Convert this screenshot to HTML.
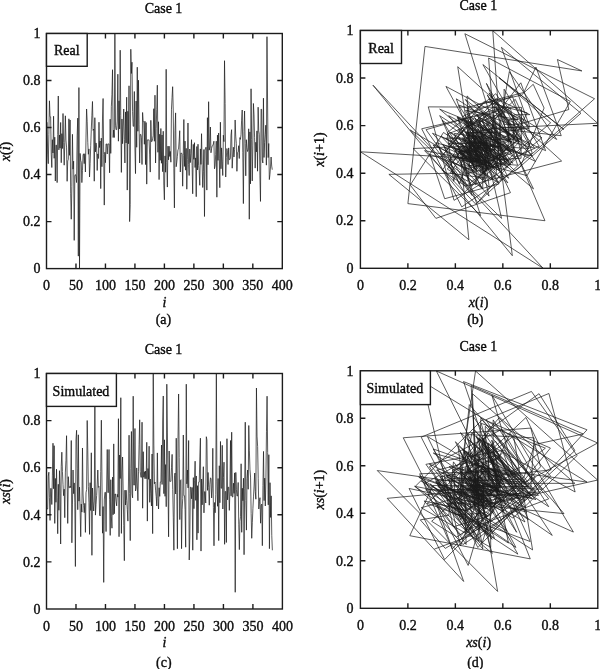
<!DOCTYPE html>
<html><head><meta charset="utf-8"><style>
html,body{margin:0;padding:0;background:#fff;}
svg{display:block;will-change:transform;}
text{stroke:#000;stroke-width:0.35px;}
</style></head><body>
<svg width="600" height="669" viewBox="0 0 600 669" font-family="'Liberation Serif', serif" font-size="14" fill="#111">
<path d="M46.50 122.30L47.09 122.30L47.68 154.08L48.27 163.70L48.86 134.36L49.45 100.81L50.04 116.68L50.63 116.82L51.22 154.11L51.81 167.51L52.39 139.69L52.98 153.00L53.57 116.21L54.16 158.31L54.75 137.18L55.34 181.00L55.93 145.15L56.52 145.15L57.11 182.60L57.70 134.55L58.29 95.99L58.88 149.90L59.47 134.97L60.06 148.18L60.65 122.46L61.24 162.71L61.83 133.65L62.42 148.53L63.01 113.50L63.60 142.16L64.19 165.20L64.77 142.77L65.36 115.81L65.95 140.05L66.54 147.12L67.13 181.31L67.72 160.97L68.31 159.44L68.90 118.79L69.49 155.33L70.08 119.99L70.67 193.84L71.26 219.23L71.85 186.32L72.44 134.31L73.03 169.11L73.62 161.16L74.21 240.39L74.80 175.74L75.39 174.56L75.97 176.21L76.56 182.55L77.15 135.91L77.74 118.14L78.33 256.14L78.92 87.57L79.51 268.60L80.10 153.40L80.69 160.34L81.28 162.19L81.87 182.60L82.46 170.52L83.05 154.95L83.64 153.75L84.23 163.65L84.82 153.75L85.41 172.00L86.00 137.06L86.59 108.99L87.18 121.22L87.77 142.26L88.35 154.27L88.94 148.91L89.53 177.01L90.12 163.60L90.71 145.78L91.30 129.26L91.89 115.27L92.48 101.49L93.07 130.36L93.66 129.04L94.25 181.19L94.84 117.69L95.43 151.92L96.02 142.94L96.61 146.98L97.20 170.49L97.79 153.87L98.38 158.50L98.97 122.20L99.56 147.55L100.14 141.01L100.73 188.60L101.32 138.12L101.91 166.71L102.50 118.04L103.09 98.51L103.68 154.39L104.27 205.10L104.86 152.25L105.45 162.69L106.04 143.93L106.63 143.93L107.22 153.97L107.81 143.93L108.40 143.93L108.99 143.93L109.58 172.80L110.17 119.17L110.76 153.38L111.34 106.78L111.93 94.77L112.52 69.71L113.11 137.51L113.70 130.03L114.29 137.51L114.88 33.71L115.47 125.19L116.06 129.77L116.65 129.54L117.24 121.10L117.83 74.20L118.42 141.20L119.01 100.83L119.60 128.95L120.19 50.19L120.78 115.31L121.37 172.40L121.96 119.03L122.55 143.69L123.14 126.06L123.72 108.99L124.31 139.44L124.90 162.99L125.49 111.93L126.08 142.94L126.67 97.19L127.26 190.10L127.85 111.27L128.44 143.81L129.03 85.81L129.62 221.58L130.21 204.65L130.80 49.25L131.39 73.47L131.98 62.21L132.57 111.62L133.16 126.29L133.75 126.29L134.34 91.50L134.93 147.90L135.51 173.60L136.10 101.07L136.69 147.29L137.28 67.19L137.87 131.28L138.46 80.19L139.05 124.77L139.64 162.99L140.23 134.40L140.82 134.40L141.41 137.32L142.00 164.50L142.59 112.49L143.18 121.59L143.77 121.59L144.36 144.26L144.95 121.19L145.54 164.59L146.13 122.56L146.72 184.11L147.30 139.88L147.89 139.88L148.48 139.88L149.07 139.88L149.66 154.91L150.25 172.09L150.84 120.30L151.43 141.53L152.02 141.53L152.61 138.80L153.20 135.74L153.79 108.71L154.38 141.25L154.97 95.19L155.56 162.99L156.15 128.53L156.74 109.74L157.33 85.20L157.92 152.30L158.50 121.76L159.09 179.59L159.68 134.22L160.27 160.34L160.86 128.50L161.45 163.25L162.04 134.99L162.63 171.69L163.22 131.23L163.81 185.12L164.40 199.81L164.99 155.89L165.58 172.21L166.17 69.31L166.76 162.55L167.35 187.09L167.94 146.18L168.53 159.84L169.12 146.18L169.71 156.46L170.30 151.43L170.88 162.19L171.47 109.20L172.06 97.45L172.65 86.70L173.24 110.14L173.83 168.19L174.42 207.90L175.01 130.67L175.60 112.89L176.19 166.71L176.78 162.17L177.37 156.32L177.96 149.80L178.55 149.08L179.14 141.15L179.73 130.69L180.32 172.00L180.91 153.07L181.50 153.07L182.09 154.25L182.67 186.20L183.26 155.56L183.85 119.50L184.44 166.45L185.03 141.11L185.62 170.16L186.21 148.37L186.80 189.21L187.39 159.33L187.98 123.00L188.57 164.62L189.16 175.50L189.75 149.05L190.34 162.59L190.93 153.54L191.52 139.69L192.11 165.63L192.70 193.79L193.29 144.37L193.88 159.33L194.46 142.70L195.05 167.51L195.64 157.89L196.23 196.71L196.82 146.54L197.41 170.02L198.00 144.21L198.59 165.37L199.18 170.61L199.77 185.30L200.36 148.91L200.95 164.43L201.54 133.70L202.13 164.36L202.72 187.49L203.31 171.64L203.90 149.50L204.49 216.50L205.08 150.18L205.66 147.45L206.25 147.45L206.84 190.10L207.43 117.69L208.02 164.78L208.61 101.70L209.20 150.18L209.79 146.96L210.38 127.00L210.97 152.79L211.56 148.68L212.15 145.90L212.74 145.55L213.33 144.00L213.92 141.20L214.51 168.80L215.10 166.12L215.69 154.58L216.28 141.20L216.87 197.20L217.46 135.11L218.04 160.38L218.63 132.99L219.22 158.36L219.81 187.70L220.40 122.20L220.99 168.75L221.58 147.90L222.17 161.91L222.76 175.50L223.35 135.20L223.94 141.65L224.53 60.70L225.12 103.56L225.71 177.01L226.30 157.47L226.89 148.53L227.48 152.13L228.07 164.50L228.66 147.92L229.25 159.63L229.83 159.63L230.42 157.96L231.01 135.11L231.60 129.70L232.19 168.19L232.78 156.25L233.37 147.19L233.96 157.00L234.55 149.47L235.14 119.99L235.73 136.14L236.32 143.50L236.91 171.29L237.50 152.51L238.09 151.92L238.68 145.69L239.27 158.50L239.86 137.60L240.45 139.37L241.03 134.76L241.62 120.16L242.21 110.00L242.80 152.30L243.39 203.59L243.98 131.56L244.57 110.99L245.16 143.53L245.75 175.81L246.34 139.69L246.93 147.69L247.52 151.50L248.11 149.59L248.70 128.81L249.29 219.21L249.88 131.91L250.47 183.89L251.06 88.80L251.65 139.53L252.24 180.91L252.82 145.92L253.41 103.49L254.00 114.89L254.59 137.72L255.18 168.12L255.77 142.26L256.36 151.92L256.95 130.88L257.54 171.20L258.13 107.20L258.72 130.88L259.31 134.22L259.90 175.88L260.49 201.41L261.08 108.99L261.67 109.51L262.26 159.84L262.85 162.99L263.44 98.20L264.03 157.47L264.62 142.52L265.20 134.85L265.79 125.19L266.38 165.16L266.97 36.70L267.56 100.97L268.15 157.59L268.74 143.50L269.33 179.59L269.92 174.65L270.51 166.92L271.10 157.00L271.69 166.03L272.28 169.69" stroke="#1a1a1a" stroke-width="0.72" fill="none" stroke-linejoin="miter" stroke-miterlimit="2"/>
<path d="M46.50 509.01L47.09 509.01L47.68 509.01L48.27 476.08L48.86 472.20L49.45 497.73L50.04 520.40L50.63 488.49L51.22 488.49L51.81 504.51L52.40 475.09L52.99 443.21L53.58 488.73L54.17 445.70L54.76 523.40L55.35 478.42L55.94 502.27L56.53 469.21L57.12 497.77L57.71 533.71L58.30 484.26L58.88 510.28L59.47 470.69L60.06 488.16L60.65 544.00L61.24 466.24L61.83 452.20L62.42 471.49L63.01 484.35L63.60 495.68L64.19 489.15L64.78 517.70L65.37 472.10L65.96 460.45L66.55 435.70L67.14 479.55L67.73 523.40L68.32 476.70L68.91 487.69L69.50 487.69L70.09 486.05L70.68 487.69L71.27 440.50L71.86 542.80L72.45 504.91L73.04 470.01L73.63 493.68L74.22 482.91L74.81 502.11L75.40 566.49L75.99 439.91L76.58 430.30L77.17 468.64L77.76 509.69L78.35 434.80L78.94 501.14L79.53 487.18L80.12 508.98L80.71 536.70L81.30 504.08L81.88 512.14L82.47 447.99L83.06 494.01L83.65 505.38L84.24 512.66L84.83 503.33L85.42 532.39L86.01 492.80L86.60 489.51L87.19 420.51L87.78 450.11L88.37 486.47L88.96 502.74L89.55 534.39L90.14 482.72L90.73 510.51L91.32 452.79L91.91 555.31L92.50 488.00L93.09 501.14L93.68 510.98L94.27 500.95L94.86 407.01L95.45 515.11L96.04 504.44L96.63 495.44L97.22 484.04L97.81 470.01L98.40 487.34L98.99 486.42L99.58 514.99L100.17 516.00L100.76 471.40L101.35 420.20L101.94 478.01L102.53 533.19L103.12 506.56L103.71 582.39L104.30 499.96L104.89 492.33L105.47 492.33L106.06 531.59L106.65 485.01L107.24 449.50L107.83 492.59L108.42 492.59L109.01 449.50L109.60 499.80L110.19 535.41L110.78 479.71L111.37 516.87L111.96 528.20L112.55 477.10L113.14 514.78L113.73 443.89L114.32 513.74L114.91 494.01L115.50 494.01L116.09 501.16L116.68 505.85L117.27 494.31L117.86 497.09L118.45 418.69L119.04 536.70L119.63 455.03L120.22 478.53L120.81 397.71L121.40 533.40L121.99 472.13L122.58 457.01L123.17 490.85L123.76 525.47L124.35 560.70L124.94 490.19L125.53 504.98L126.12 490.19L126.71 500.55L127.30 509.62L127.89 521.11L128.48 481.97L129.06 435.20L129.65 493.35L130.24 540.61L130.83 468.62L131.42 431.50L132.01 493.72L132.60 497.84L133.19 396.20L133.78 485.10L134.37 485.10L134.96 428.49L135.55 490.99L136.14 488.45L136.73 467.91L137.32 486.02L137.91 500.69L138.50 471.26L139.09 444.76L139.68 419.80L140.27 471.73L140.86 477.28L141.45 477.28L142.04 422.20L142.63 508.21L143.22 451.71L143.81 477.24L144.40 471.70L144.99 478.72L145.58 471.02L146.17 478.72L146.76 442.29L147.35 521.11L147.94 468.52L148.53 479.29L149.12 446.20L149.71 502.32L150.30 479.00L150.89 493.75L151.48 505.99L152.07 453.99L152.65 533.64L153.24 373.69L153.83 445.09L154.42 483.76L155.01 481.99L155.60 490.17L156.19 496.57L156.78 505.99L157.37 452.91L157.96 498.64L158.55 509.01L159.14 487.76L159.73 496.38L160.32 481.99L160.91 481.99L161.50 445.00L162.09 484.49L162.68 422.01L163.27 395.99L163.86 493.65L164.45 439.82L165.04 496.31L165.63 464.59L166.22 506.70L166.81 384.19L167.40 432.02L167.99 483.97L168.58 536.80L169.17 451.00L169.76 481.36L170.35 481.36L170.94 481.36L171.53 467.35L172.12 454.39L172.71 489.44L173.30 517.84L173.89 550.20L174.48 475.64L175.07 473.00L175.66 494.01L176.24 438.19L176.83 492.47L177.42 548.69L178.01 439.32L178.60 393.99L179.19 457.55L179.78 519.60L180.37 480.39L180.96 479.71L181.55 548.69L182.14 509.27L182.73 498.43L183.32 434.99L183.91 495.75L184.50 495.75L185.09 509.64L185.68 547.20L186.27 384.19L186.86 483.86L187.45 470.01L188.04 487.91L188.63 440.50L189.22 559.99L189.81 537.01L190.40 487.20L190.99 487.20L191.58 498.79L192.17 487.48L192.76 550.20L193.35 477.61L193.94 508.68L194.53 480.23L195.12 461.20L195.71 500.36L196.30 475.97L196.89 539.81L197.48 485.69L198.07 533.10L198.66 482.09L199.25 482.09L199.83 456.98L200.42 438.19L201.01 551.09L201.60 479.00L202.19 504.84L202.78 484.02L203.37 466.71L203.96 512.87L204.55 491.70L205.14 491.70L205.73 503.00L206.32 436.71L206.91 440.01L207.50 490.36L208.09 472.48L208.68 487.27L209.27 505.19L209.86 484.30L210.45 477.80L211.04 478.91L211.63 497.96L212.22 488.16L212.81 448.29L213.40 507.31L213.99 545.79L214.58 502.53L215.17 512.75L215.76 494.78L216.35 373.69L216.94 481.83L217.53 506.27L218.12 478.51L218.71 540.61L219.30 465.75L219.89 502.77L220.48 441.49L221.07 488.24L221.66 488.24L222.25 445.30L222.84 509.01L223.43 477.36L224.01 462.19L224.60 544.31L225.19 491.44L225.78 491.44L226.37 542.49L226.96 438.71L227.55 499.87L228.14 487.20L228.73 487.20L229.32 510.37L229.91 491.18L230.50 440.50L231.09 495.91L231.68 432.21L232.27 497.00L232.86 497.00L233.45 483.17L234.04 493.39L234.63 472.88L235.22 592.28L235.81 472.41L236.40 489.67L236.99 496.01L237.58 496.01L238.17 482.47L238.76 524.81L239.35 549.61L239.94 521.28L240.53 516.68L241.12 463.79L241.71 532.30L242.30 488.19L242.89 500.72L243.48 478.20L244.07 554.69L244.66 488.24L245.25 422.20L245.84 500.48L246.43 530.11L247.01 478.58L247.60 470.01L248.19 489.25L248.78 425.50L249.37 450.20L249.96 469.16L250.55 477.05L251.14 513.36L251.73 538.30L252.32 522.71L252.91 508.56L253.50 496.90L254.09 486.02L254.68 473.00L255.27 491.60L255.86 499.21L256.45 388.01L257.04 436.14L257.63 446.58L258.22 478.70L258.81 509.01L259.40 501.21L259.99 497.70L260.58 523.21L261.17 505.05L261.76 504.13L262.35 545.70L262.94 485.60L263.53 451.40L264.12 500.62L264.71 478.13L265.30 505.99L265.89 481.08L266.48 431.79L267.07 396.20L267.66 452.63L268.25 504.86L268.84 454.70L269.43 548.69L270.02 482.70L270.60 517.44L271.19 495.87L271.78 535.64L272.37 550.29" stroke="#1a1a1a" stroke-width="0.72" fill="none" stroke-linejoin="miter" stroke-miterlimit="2"/>
<path d="M508.13 120.32L508.13 152.47L476.04 162.19L466.33 132.52L495.96 98.58L529.83 114.63L513.81 114.78L513.67 152.49L476.01 166.05L462.48 137.91L490.57 151.37L477.13 114.16L514.28 156.75L471.76 135.37L493.11 179.70L448.86 143.43L485.06 143.43L485.06 181.31L447.24 132.71L495.77 93.71L534.70 148.23L480.26 133.13L495.34 146.50L482.00 120.48L507.97 161.19L467.32 131.80L496.67 146.86L481.64 111.42L517.01 140.41L488.07 163.72L464.81 141.03L487.46 113.75L514.69 138.27L490.21 145.43L483.06 180.00L448.55 159.44L469.08 157.89L470.62 116.77L511.67 153.73L474.78 117.99L510.46 192.68L435.89 218.36L410.25 185.07L443.49 132.47L496.00 167.66L460.87 159.63L468.89 239.76L388.89 174.37L454.17 173.18L455.36 174.84L453.70 181.27L447.29 134.09L494.39 116.11L512.34 255.70L372.98 85.19L543.20 268.30L360.40 151.78L476.73 158.79L469.72 160.67L467.85 181.31L447.24 169.09L459.44 153.35L475.16 152.13L476.37 162.15L466.38 152.13L476.37 170.59L457.95 135.25L493.23 106.86L521.57 119.22L509.23 140.51L487.98 152.66L475.85 147.24L481.26 175.65L452.89 162.10L466.42 144.07L484.42 127.36L501.11 113.21L515.23 99.27L529.14 128.47L499.99 127.14L501.32 179.89L448.67 115.66L512.79 150.28L478.22 141.20L487.29 145.29L483.21 169.07L459.47 152.25L476.25 156.94L471.57 120.22L508.23 145.86L482.64 139.25L489.24 187.38L441.19 136.32L492.16 165.24L463.29 116.01L512.43 96.25L532.16 152.78L475.73 204.07L424.52 150.61L477.89 161.17L467.35 142.19L486.29 142.19L486.29 152.35L476.16 142.19L486.29 142.19L486.29 142.19L486.29 171.40L457.14 117.15L511.29 151.75L476.75 104.62L523.80 92.47L535.93 67.12L561.24 135.70L492.77 128.14L500.32 135.70L492.77 30.71L597.59 123.24L505.21 127.88L500.58 127.64L500.82 119.10L509.34 71.66L556.71 139.44L489.05 98.61L529.81 127.05L501.42 47.38L580.94 113.25L515.18 170.99L457.54 117.01L511.43 141.96L486.53 124.12L504.34 106.86L521.57 137.65L490.83 161.48L467.04 109.83L518.60 141.20L487.29 94.92L533.49 188.90L439.67 109.16L519.27 142.08L486.41 83.41L544.98 220.74L407.88 203.62L424.97 46.43L581.89 70.93L557.44 59.54L568.81 109.52L518.91 124.36L504.10 124.36L504.10 89.17L539.23 146.21L482.28 172.21L456.33 98.84L529.57 145.60L482.90 64.58L563.78 129.40L499.07 77.73L550.65 122.81L505.64 161.48L467.04 132.56L495.91 132.56L495.91 135.51L492.96 163.00L465.52 110.40L518.03 119.60L508.85 119.60L508.85 142.53L485.96 119.20L509.25 163.10L465.43 120.58L507.87 182.83L445.72 138.10L490.38 138.10L490.38 138.10L490.38 138.10L490.38 153.30L475.21 170.68L457.85 118.30L510.15 139.77L488.71 139.77L488.71 137.01L491.47 133.92L494.55 106.57L521.86 139.48L489.00 92.90L535.51 161.48L467.04 126.62L501.84 107.62L520.81 82.79L545.60 150.66L477.84 119.77L508.68 178.27L450.28 132.37L496.10 158.79L469.72 126.59L501.87 161.74L466.78 133.16L495.31 170.28L458.26 129.35L499.11 183.86L444.70 198.72L429.86 154.30L474.21 170.80L457.73 66.72L561.64 161.03L467.49 185.85L442.71 144.48L484.01 158.29L470.22 144.48L484.01 154.87L473.64 149.78L478.72 160.67L467.85 107.07L521.36 95.18L533.23 84.31L544.08 108.02L520.41 166.74L461.79 206.90L421.70 128.78L499.68 110.81L517.63 165.24L463.29 160.65L467.87 154.73L473.78 148.14L480.36 147.40L481.09 139.39L489.09 128.81L499.66 170.59L457.95 151.45L477.06 151.45L477.06 152.63L475.87 184.95L443.61 153.97L474.54 117.49L510.96 164.98L463.55 139.34L489.14 168.73L459.80 146.69L481.81 187.99L440.57 157.77L470.74 121.03L507.42 163.12L465.40 174.13L454.41 147.38L481.12 161.08L467.44 151.92L476.58 137.91L490.57 164.14L464.38 192.63L435.94 142.65L485.84 157.77L470.74 140.96L487.53 166.05L462.48 156.32L472.19 195.58L433.00 144.83L483.66 168.59L459.94 142.48L486.01 163.88L464.64 169.18L459.35 184.05L444.51 147.24L481.26 162.93L465.59 131.85L496.62 162.86L465.66 186.26L442.30 170.23L458.30 147.83L480.67 215.60L413.01 148.52L479.98 145.76L482.73 145.76L482.73 188.90L439.67 115.66L512.79 163.29L465.24 99.49L528.93 148.52L479.98 145.26L483.23 125.07L503.39 151.16L477.34 147.00L481.50 144.19L484.30 143.84L484.66 142.27L486.22 139.44L489.05 167.35L461.18 164.64L463.88 152.97L475.54 139.44L489.05 196.08L432.50 133.28L495.20 158.84L469.68 131.14L497.33 156.80L471.72 186.47L442.09 120.22L508.23 167.31L461.22 146.21L482.28 160.39L468.13 174.13L454.41 133.37L495.10 139.89L488.60 58.01L570.33 101.36L527.05 175.65L452.89 155.89L472.62 146.86L481.64 150.49L478.01 163.00L465.52 146.24L482.26 158.08L470.43 158.08L470.43 156.39L472.12 133.28L495.20 127.81L500.66 166.74L461.79 154.66L473.85 145.50L482.99 155.42L473.09 147.81L480.69 117.99L510.46 134.32L494.15 141.77L486.72 169.87L458.66 150.87L477.63 150.28L478.22 143.98L484.51 156.94L471.57 135.80L492.68 137.58L490.90 132.92L495.55 118.15L510.29 107.88L520.55 150.66L477.84 202.55L426.04 129.69L498.78 108.88L519.55 141.79L486.70 174.44L454.10 137.91L490.57 146.00L482.49 149.85L478.65 147.93L480.57 126.90L501.56 218.34L410.28 130.04L498.42 182.62L445.94 86.43L541.96 137.75L490.73 179.60L448.95 144.22L484.28 101.29L527.13 112.83L515.61 135.92L492.56 166.66L461.86 140.51L487.98 150.28L478.22 129.00L499.47 169.78L458.75 105.05L523.38 129.00L499.47 132.37L496.10 174.51L454.03 200.34L428.25 106.86L521.57 107.38L521.05 158.29L470.22 161.48L467.04 95.94L532.47 155.89L472.62 140.77L487.72 133.02L495.46 123.24L505.21 163.67L464.86 33.73L594.57 98.75L529.67 156.01L472.50 141.77L486.72 178.27L450.28 173.28L455.27 165.45L463.08 155.42L473.09 164.55L463.98 168.26" stroke="#1a1a1a" stroke-width="0.72" fill="none" stroke-linejoin="miter" stroke-miterlimit="2"/>
<path d="M461.20 507.46L461.20 507.46L461.20 474.25L494.39 470.34L498.31 496.08L472.57 518.95L449.71 486.77L481.88 486.77L481.88 502.92L465.73 473.26L495.39 441.10L527.53 487.01L481.64 443.62L525.01 521.97L446.69 476.61L492.04 500.66L467.99 467.32L501.32 496.13L472.52 532.37L436.30 482.50L486.15 508.74L459.92 468.82L499.83 486.44L482.21 542.75L425.92 464.33L504.31 450.17L518.46 469.62L499.02 482.59L486.06 494.01L474.64 487.44L481.21 516.22L452.44 470.24L498.40 458.49L510.15 433.52L535.10 477.75L490.90 521.97L446.69 474.87L493.77 485.96L482.68 485.96L482.68 484.30L484.35 485.96L482.68 438.37L530.26 541.54L427.13 503.32L465.33 468.13L500.51 492.00L476.65 481.14L487.50 500.50L468.16 565.43L403.25 437.77L530.85 428.08L540.54 466.75L501.89 508.15L460.51 432.62L536.00 499.52L469.13 485.44L483.21 507.43L461.22 535.39L433.28 502.49L466.16 510.62L458.04 445.92L522.71 492.33L476.32 503.80L464.86 511.14L457.52 501.73L466.92 531.04L437.63 491.12L477.53 487.79L480.86 418.21L550.41 448.06L520.57 484.73L483.92 501.14L467.51 533.06L435.61 480.95L487.69 508.98L459.68 450.77L517.87 554.15L414.53 486.27L482.38 499.52L469.13 509.45L459.21 499.33L469.32 404.60L564.02 513.61L455.05 502.85L465.81 493.78L474.87 482.28L486.36 468.13L500.51 485.61L483.04 484.68L483.97 513.49L455.17 514.51L454.15 469.53L499.11 417.90L550.72 476.20L492.44 531.85L436.82 504.99L463.67 581.46L387.23 498.34L470.32 490.64L478.01 490.64L478.01 530.23L438.43 483.26L485.39 447.44L521.19 490.90L477.75 490.90L477.75 447.44L521.19 498.17L470.48 534.08L434.59 477.91L490.73 515.39L453.27 526.81L441.85 475.28L493.37 513.28L455.38 441.79L526.84 512.23L456.43 492.33L476.32 492.33L476.32 499.55L469.11 504.27L464.38 492.64L476.01 495.44L473.21 416.38L552.24 535.39L433.28 453.02L515.61 476.72L491.92 395.22L573.40 532.06L436.61 470.26L498.38 455.02L513.62 489.15L479.50 524.06L444.61 559.59L409.09 488.48L480.17 503.40L465.26 488.48L480.17 498.93L469.72 508.07L460.58 519.66L449.00 480.19L488.45 433.02L535.60 491.66L476.99 539.33L429.34 466.73L501.91 429.30L539.33 492.04L476.61 496.20L472.45 393.70L574.91 483.35L485.30 483.35L485.30 426.26L542.37 489.29L479.36 486.72L481.93 466.01L502.63 484.28L484.37 499.07L469.58 469.39L499.26 442.67L525.96 417.49L551.13 469.86L498.78 475.47L493.18 475.47L493.18 419.91L548.71 506.65L462.01 449.67L518.96 475.42L493.23 469.84L498.80 476.91L491.73 469.15L499.49 476.91L491.73 440.17L528.46 519.66L449.00 466.63L502.01 477.49L491.16 444.12L524.51 500.71L467.94 477.20L491.44 492.07L476.58 504.42L464.24 451.98L516.66 532.30L436.37 370.99L597.61 443.00L525.63 482.00L486.65 480.22L488.43 488.46L480.19 494.92L473.73 504.42L464.24 450.88L517.75 497.01L471.65 507.46L461.20 486.03L482.61 494.73L473.92 480.22L488.43 480.22L488.43 442.90L525.73 482.73L485.91 419.73L548.90 393.48L575.13 491.97L476.68 437.68L530.95 494.66L474.00 462.66L505.97 505.13L463.53 381.58L587.02 429.82L538.81 482.21L486.44 535.48L433.19 448.96L519.67 479.57L489.07 479.57L489.07 479.57L489.07 465.44L503.20 452.38L516.25 487.72L480.93 516.36L452.30 549.00L419.68 473.80L494.84 471.14L497.50 492.33L476.32 436.04L532.59 490.78L477.87 547.48L421.20 437.18L531.45 391.46L577.15 455.56L513.07 518.14L450.52 478.60L490.04 477.91L490.73 547.48L421.20 507.72L460.94 496.79L471.86 432.81L535.81 494.09L474.57 494.09L474.57 508.10L460.56 545.98L422.69 381.58L587.02 482.09L486.55 468.13L500.51 486.18L482.47 438.37L530.26 558.88L409.80 535.70L432.97 485.46L483.18 485.46L483.18 497.15L471.50 485.75L482.90 549.00L419.68 475.80L492.85 507.12L461.53 478.44L490.21 459.25L509.39 498.74L469.91 474.14L494.51 538.52L430.15 483.94L484.70 531.75L436.91 480.31L488.33 480.31L488.33 454.99L513.64 436.04L532.59 549.90L418.78 477.20L491.44 503.25L465.40 482.26L486.39 464.80L503.84 511.35L457.31 490.00L478.65 490.00L478.65 501.40L467.25 434.54L534.08 437.87L530.76 488.65L480.00 470.62L498.02 485.54L483.11 503.61L465.05 482.54L486.10 475.99L492.66 477.11L491.54 496.32L472.33 486.44L482.21 446.23L522.40 505.75L462.91 544.55L424.12 500.93L467.73 511.23L457.43 493.11L475.54 370.99L597.61 480.05L488.60 504.70L463.95 476.70L491.94 539.33L429.34 463.83L504.81 501.16L467.49 439.37L529.26 486.51L482.14 486.51L482.14 443.21L525.42 507.46L461.20 475.54L493.11 460.24L508.40 543.06L425.61 489.74L478.91 489.74L478.91 541.23L427.44 436.56L532.06 498.24L470.41 485.46L483.18 485.46L483.18 508.83L459.82 489.48L479.17 438.37L530.26 494.25L474.40 430.01L538.62 495.34L473.31 495.34L473.31 481.40L487.24 491.71L476.94 471.02L497.62 591.44L377.26 470.55L498.09 487.96L480.69 494.35L474.30 494.35L474.30 480.69L487.96 523.39L445.27 548.40L420.27 519.83L448.83 515.20L453.46 461.86L506.78 530.95L437.72 486.46L482.19 499.10L469.56 476.39L492.25 553.53L415.14 486.51L482.14 419.91L548.71 498.86L469.79 528.74L439.93 476.77L491.87 468.13L500.51 487.53L481.12 423.24L545.38 448.15L520.48 467.27L501.37 475.23L493.42 511.85L456.81 537.00L431.67 521.28L447.38 507.01L461.65 495.25L473.40 484.28L484.37 471.14L497.50 489.91L478.74 497.58L471.08 385.43L583.18 433.98L534.65 444.50L524.13 476.89L491.75 507.46L461.20 499.60L469.06 496.06L472.60 521.78L446.88 503.47L465.19 502.54L466.11 544.46L424.21 483.85L484.80 449.37L519.27 499.00L469.65 476.32L492.32 504.42L464.24 479.29L489.36 429.58L539.04 393.70L574.91 450.60L518.03 503.28L465.38 452.69L515.94 547.48L421.20 480.93L487.72 515.96L452.70 494.20L474.45 534.32L434.35 549.09" stroke="#1a1a1a" stroke-width="0.72" fill="none" stroke-linejoin="miter" stroke-miterlimit="2"/>
<path d="M75.97 268.60V263.60M75.97 33.50V38.50M105.45 268.60V263.60M105.45 33.50V38.50M134.93 268.60V263.60M134.93 33.50V38.50M164.40 268.60V263.60M164.40 33.50V38.50M193.88 268.60V263.60M193.88 33.50V38.50M223.35 268.60V263.60M223.35 33.50V38.50M252.82 268.60V263.60M252.82 33.50V38.50M46.50 221.58H51.50M282.30 221.58H277.30M46.50 174.56H51.50M282.30 174.56H277.30M46.50 127.54H51.50M282.30 127.54H277.30M46.50 80.52H51.50M282.30 80.52H277.30" stroke="#1c1c1c" stroke-width="1.40" fill="none"/>
<rect x="46.50" y="33.50" width="235.80" height="235.10" stroke="#1c1c1c" stroke-width="1.40" fill="none"/>
<path d="M407.88 268.30V263.30M407.88 30.50V35.50M455.36 268.30V263.30M455.36 30.50V35.50M502.84 268.30V263.30M502.84 30.50V35.50M550.32 268.30V263.30M550.32 30.50V35.50M360.40 220.74H365.40M597.80 220.74H592.80M360.40 173.18H365.40M597.80 173.18H592.80M360.40 125.62H365.40M597.80 125.62H592.80M360.40 78.06H365.40M597.80 78.06H592.80" stroke="#1c1c1c" stroke-width="1.40" fill="none"/>
<rect x="360.40" y="30.50" width="237.40" height="237.80" stroke="#1c1c1c" stroke-width="1.40" fill="none"/>
<path d="M75.99 609.00V604.00M75.99 373.50V378.50M105.47 609.00V604.00M105.47 373.50V378.50M134.96 609.00V604.00M134.96 373.50V378.50M164.45 609.00V604.00M164.45 373.50V378.50M193.94 609.00V604.00M193.94 373.50V378.50M223.43 609.00V604.00M223.43 373.50V378.50M252.91 609.00V604.00M252.91 373.50V378.50M46.50 561.90H51.50M282.40 561.90H277.40M46.50 514.80H51.50M282.40 514.80H277.40M46.50 467.70H51.50M282.40 467.70H277.40M46.50 420.60H51.50M282.40 420.60H277.40" stroke="#1c1c1c" stroke-width="1.40" fill="none"/>
<rect x="46.50" y="373.50" width="235.90" height="235.50" stroke="#1c1c1c" stroke-width="1.40" fill="none"/>
<path d="M407.88 608.30V603.30M407.88 370.80V375.80M455.36 608.30V603.30M455.36 370.80V375.80M502.84 608.30V603.30M502.84 370.80V375.80M550.32 608.30V603.30M550.32 370.80V375.80M360.40 560.80H365.40M597.80 560.80H592.80M360.40 513.30H365.40M597.80 513.30H592.80M360.40 465.80H365.40M597.80 465.80H592.80M360.40 418.30H365.40M597.80 418.30H592.80" stroke="#1c1c1c" stroke-width="1.40" fill="none"/>
<rect x="360.40" y="370.80" width="237.40" height="237.50" stroke="#1c1c1c" stroke-width="1.40" fill="none"/>
<text x="46.50" y="290.30" text-anchor="middle">0</text>
<text x="75.97" y="290.30" text-anchor="middle">50</text>
<text x="105.45" y="290.30" text-anchor="middle">100</text>
<text x="134.93" y="290.30" text-anchor="middle">150</text>
<text x="164.40" y="290.30" text-anchor="middle">200</text>
<text x="193.88" y="290.30" text-anchor="middle">250</text>
<text x="223.35" y="290.30" text-anchor="middle">300</text>
<text x="252.82" y="290.30" text-anchor="middle">350</text>
<text x="282.30" y="290.30" text-anchor="middle">400</text>
<text x="40.60" y="273.30" text-anchor="end">0</text>
<text x="40.60" y="226.28" text-anchor="end">0.2</text>
<text x="40.60" y="179.26" text-anchor="end">0.4</text>
<text x="40.60" y="132.24" text-anchor="end">0.6</text>
<text x="40.60" y="85.22" text-anchor="end">0.8</text>
<text x="40.60" y="38.20" text-anchor="end">1</text>
<text x="360.40" y="289.80" text-anchor="middle">0</text>
<text x="407.88" y="289.80" text-anchor="middle">0.2</text>
<text x="455.36" y="289.80" text-anchor="middle">0.4</text>
<text x="502.84" y="289.80" text-anchor="middle">0.6</text>
<text x="550.32" y="289.80" text-anchor="middle">0.8</text>
<text x="597.80" y="289.80" text-anchor="middle">1</text>
<text x="353.60" y="273.00" text-anchor="end">0</text>
<text x="353.60" y="225.44" text-anchor="end">0.2</text>
<text x="353.60" y="177.88" text-anchor="end">0.4</text>
<text x="353.60" y="130.32" text-anchor="end">0.6</text>
<text x="353.60" y="82.76" text-anchor="end">0.8</text>
<text x="353.60" y="35.20" text-anchor="end">1</text>
<text x="46.50" y="630.60" text-anchor="middle">0</text>
<text x="75.99" y="630.60" text-anchor="middle">50</text>
<text x="105.47" y="630.60" text-anchor="middle">100</text>
<text x="134.96" y="630.60" text-anchor="middle">150</text>
<text x="164.45" y="630.60" text-anchor="middle">200</text>
<text x="193.94" y="630.60" text-anchor="middle">250</text>
<text x="223.43" y="630.60" text-anchor="middle">300</text>
<text x="252.91" y="630.60" text-anchor="middle">350</text>
<text x="282.40" y="630.60" text-anchor="middle">400</text>
<text x="40.60" y="613.70" text-anchor="end">0</text>
<text x="40.60" y="566.60" text-anchor="end">0.2</text>
<text x="40.60" y="519.50" text-anchor="end">0.4</text>
<text x="40.60" y="472.40" text-anchor="end">0.6</text>
<text x="40.60" y="425.30" text-anchor="end">0.8</text>
<text x="40.60" y="378.20" text-anchor="end">1</text>
<text x="360.40" y="630.20" text-anchor="middle">0</text>
<text x="407.88" y="630.20" text-anchor="middle">0.2</text>
<text x="455.36" y="630.20" text-anchor="middle">0.4</text>
<text x="502.84" y="630.20" text-anchor="middle">0.6</text>
<text x="550.32" y="630.20" text-anchor="middle">0.8</text>
<text x="597.80" y="630.20" text-anchor="middle">1</text>
<text x="353.60" y="613.00" text-anchor="end">0</text>
<text x="353.60" y="565.50" text-anchor="end">0.2</text>
<text x="353.60" y="518.00" text-anchor="end">0.4</text>
<text x="353.60" y="470.50" text-anchor="end">0.6</text>
<text x="353.60" y="423.00" text-anchor="end">0.8</text>
<text x="353.60" y="375.50" text-anchor="end">1</text>
<rect x="46.50" y="33.50" width="40.70" height="32.80" stroke="#1c1c1c" stroke-width="1.40" fill="#fff"/>
<text x="54.00" y="55.00">Real</text>
<rect x="360.40" y="30.50" width="41.10" height="33.00" stroke="#1c1c1c" stroke-width="1.40" fill="#fff"/>
<text x="368.30" y="52.50">Real</text>
<rect x="46.50" y="373.50" width="69.90" height="32.90" stroke="#1c1c1c" stroke-width="1.40" fill="#fff"/>
<text x="52.60" y="395.50">Simulated</text>
<rect x="360.40" y="370.80" width="70.00" height="33.80" stroke="#1c1c1c" stroke-width="1.40" fill="#fff"/>
<text x="366.40" y="392.70">Simulated</text>
<text x="163.5" y="13.3" text-anchor="middle">Case 1</text>
<text x="478.3" y="10.0" text-anchor="middle">Case 1</text>
<text x="163.5" y="353.6" text-anchor="middle">Case 1</text>
<text x="478.3" y="350.6" text-anchor="middle">Case 1</text>
<text x="164.5" y="306.5" text-anchor="middle" font-style="italic">i</text>
<text x="478.6" y="306.8" text-anchor="middle"><tspan font-style="italic">x</tspan>(<tspan font-style="italic">i</tspan>)</text>
<text x="164.5" y="646.5" text-anchor="middle" font-style="italic">i</text>
<text x="478.6" y="646.5" text-anchor="middle"><tspan font-style="italic">xs</tspan>(<tspan font-style="italic">i</tspan>)</text>
<text x="163.4" y="324.2" text-anchor="middle">(a)</text>
<text x="475.3" y="324.2" text-anchor="middle">(b)</text>
<text x="163.8" y="666.8" text-anchor="middle">(c)</text>
<text x="475.3" y="666.8" text-anchor="middle">(d)</text>
<text transform="translate(10.00 151.50) rotate(-90)" text-anchor="middle"><tspan font-style="italic">x</tspan>(<tspan font-style="italic">i</tspan>)</text>
<text transform="translate(324.10 149.60) rotate(-90)" text-anchor="middle"><tspan font-style="italic">x</tspan>(<tspan font-style="italic">i</tspan>+1)</text>
<text transform="translate(10.00 491.50) rotate(-90)" text-anchor="middle"><tspan font-style="italic">xs</tspan>(<tspan font-style="italic">i</tspan>)</text>
<text transform="translate(324.10 489.60) rotate(-90)" text-anchor="middle"><tspan font-style="italic">xs</tspan>(<tspan font-style="italic">i</tspan>+1)</text>
</svg></body></html>
